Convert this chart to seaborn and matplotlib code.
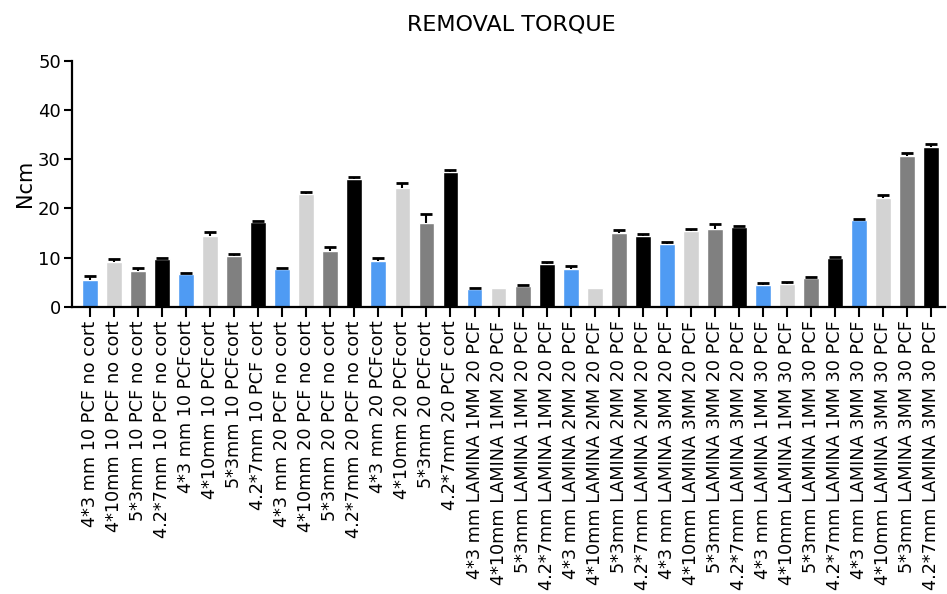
import matplotlib
matplotlib.use("Agg")
import matplotlib.pyplot as plt
import seaborn as sns
import pandas as pd
import numpy as np

# Implant groups (x-axis categories)
labels = [
    "4*3 mm 10 PCF no cort", "4*10mm 10 PCF no cort", "5*3mm 10 PCF no cort", "4.2*7mm 10 PCF no cort",
    "4*3 mm 10 PCFcort", "4*10mm 10 PCFcort", "5*3mm 10 PCFcort", "4.2*7mm 10 PCF cort",
    "4*3 mm 20 PCF no cort", "4*10mm 20 PCF no cort", "5*3mm 20 PCF no cort", "4.2*7mm 20 PCF no cort",
    "4*3 mm 20 PCFcort", "4*10mm 20 PCFcort", "5*3mm 20 PCFcort", "4.2*7mm 20 PCF cort",
    "4*3 mm LAMINA 1MM 20 PCF", "4*10mm LAMINA 1MM 20 PCF", "5*3mm LAMINA 1MM 20 PCF", "4.2*7mm LAMINA 1MM 20 PCF",
    "4*3 mm LAMINA 2MM 20 PCF", "4*10mm LAMINA 2MM 20 PCF", "5*3mm LAMINA 2MM 20 PCF", "4.2*7mm LAMINA 2MM 20 PCF",
    "4*3 mm LAMINA 3MM 20 PCF", "4*10mm LAMINA 3MM 20 PCF", "5*3mm LAMINA 3MM 20 PCF", "4.2*7mm LAMINA 3MM 20 PCF",
    "4*3 mm LAMINA 1MM 30 PCF", "4*10mm LAMINA 1MM 30 PCF", "5*3mm LAMINA 1MM 30 PCF", "4.2*7mm LAMINA 1MM 30 PCF",
    "4*3 mm LAMINA 3MM 30 PCF", "4*10mm LAMINA 3MM 30 PCF", "5*3mm LAMINA 3MM 30 PCF", "4.2*7mm LAMINA 3MM 30 PCF",
]

# Mean removal torque (Ncm)
means = [
    5.4, 9.0, 7.3, 9.7,
    6.6, 14.3, 10.3, 17.2,
    7.6, 23.0, 11.3, 25.9,
    9.3, 24.2, 17.1, 27.4,
    3.6, 3.8, 4.2, 8.6,
    7.7, 3.8, 14.9, 14.3,
    12.7, 15.5, 15.8, 16.2,
    4.4, 4.6, 5.8, 9.9,
    17.6, 22.1, 30.7, 32.5,
]

# Standard error (upper bar only)
errors = [
    0.9, 0.8, 0.6, 0.3,
    0.3, 0.9, 0.5, 0.3,
    0.3, 0.4, 0.8, 0.5,
    0.7, 0.9, 1.8, 0.4,
    0.3, 0.0, 0.2, 0.4,
    0.5, 0.0, 0.7, 0.4,
    0.5, 0.4, 1.0, 0.3,
    0.4, 0.4, 0.2, 0.3,
    0.3, 0.6, 0.5, 0.6,
]

implant_colors = ["#4F9BF3", "#D3D3D3", "#808080", "#000000"]
colors = [implant_colors[i % 4] for i in range(len(labels))]

df = pd.DataFrame({"group": labels, "torque": means})

sns.set_theme(style="ticks")
plt.rcParams["font.family"] = ["DejaVu Sans"]
plt.rcParams["text.color"] = "black"
plt.rcParams["axes.labelcolor"] = "black"
plt.rcParams["xtick.color"] = "black"
plt.rcParams["ytick.color"] = "black"

fig = plt.figure(figsize=(9.47, 5.94), dpi=100)
ax = fig.add_axes([0.076, 0.4837, 0.922, 0.4136])

sns.barplot(data=df, x="group", y="torque", hue="group", palette=colors,
            width=0.66, legend=False, ax=ax, saturation=1, errorbar=None)

x = np.arange(len(labels))
err = np.array(errors)
m = np.array(means)
has = err > 0
_, caps, _ = ax.errorbar(x[has], m[has], yerr=[np.zeros(has.sum()), err[has]], fmt="none",
                         ecolor="black", elinewidth=1.5, capsize=4.5, capthick=2, zorder=3)
# keep only the upper cap of each error bar
caps[0].set_visible(False)

ax.set_xlim(-0.75, 35.58)
ax.set_ylim(0, 50)
ax.set_yticks([0, 10, 20, 30, 40, 50])
ax.set_xlabel("")
ax.set_ylabel("Ncm", fontsize=15, labelpad=2)
ax.tick_params(axis="y", labelsize=13, length=6, width=1.5, pad=2)
ax.tick_params(axis="x", labelsize=12.7, length=7, width=1.5, pad=3)
ax.set_xticks(x)
ax.set_xticklabels(labels, rotation=90)

for side in ["left", "bottom"]:
    ax.spines[side].set_linewidth(1.6)
    ax.spines[side].set_color("black")
sns.despine(ax=ax)

fig.text(0.54, 0.958, "REMOVAL TORQUE", ha="center", va="center", fontsize=16)

fig.savefig("out.png", dpi=100)
